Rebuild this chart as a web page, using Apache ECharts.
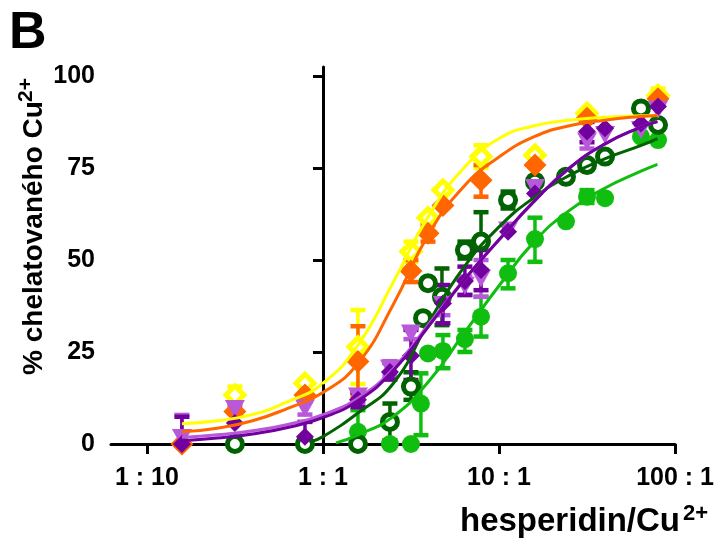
<!DOCTYPE html>
<html><head><meta charset="utf-8">
<script src="https://cdn.jsdelivr.net/npm/echarts@6/dist/echarts.min.js"></script>
<style>html,body{margin:0;padding:0;background:#fff}#c{width:717px;height:542px}</style>
</head><body><div id="c"></div>
<script>
// ---- axis ticks ----
const xTickRatios = [0.1, 1, 10, 100];
const xTickLabels = ['1 : 10', '1 : 1', '10 : 1', '100 : 1'];
const yTicks = [0, 25, 50, 75, 100];
const xMinRatio = 0.0625, xMaxRatio = 100;
const yMin = 0, yMax = 102.45;
const refRatio = 1;

// ---- yellow, open diamonds ----
const yelX  = [0.316, 0.79, 1.58, 3.16, 3.95, 4.8, 7.9, 16, 31.6, 80];
const yelY  = [13.3, 16.5, 26.4, 52.3, 61.5, 69, 78.1, 78.5, 89.9, 94.7];
const yelLo = [11, null, 16.3, 49.5, null, null, 75, null, null, 92.8];
const yelHi = [15.6, null, 36.4, 55, null, null, 81.2, null, null, 96.6];
// ---- orange, filled diamonds ----
const orX  = [0.158, 0.316, 0.79, 1.58, 3.16, 3.95, 4.8, 7.9, 16, 31.6, 80];
const orY  = [0, 8.8, 13.3, 22.4, 47, 57.3, 64.8, 71.7, 75.8, 88.5, 93.8];
const orLo = [null, null, null, 13, 44, 55, null, 67.2, null, null, null];
const orHi = [null, null, null, 32, 50, 59.5, null, 75.8, null, null, null];
// ---- light purple, down triangles ----
const lpX  = [0.158, 0.316, 0.79, 1.58, 2.4, 3.16, 4.8, 6.4, 7.9, 11.25, 16, 31.6, 40, 64, 80];
const lpY  = [1.6, 9.5, 9.7, 12.9, 20.5, 30, 37.8, 43, 45, 58, 69.6, 82.2, 84, 85.3, 90.8];
const lpLo = [0, 8.4, 8, 11, 18.5, 28.5, 35, 40.5, 40, null, null, 80.3, null, null, null];
const lpHi = [7.9, 10.6, 11.5, 14, 22.5, 31.5, 40.5, 45.5, 50, null, null, 84, null, null, null];
// ---- dark purple, filled diamonds ----
const dpX  = [0.158, 0.316, 0.79, 1.58, 2.4, 3.16, 4.8, 6.4, 7.9, 11.25, 16, 31.6, 40, 64, 80];
const dpY  = [0, 5.7, 2, 12, 19.6, 24, 38.2, 44.3, 47.3, 57.7, 68.1, 84.9, 85.8, 87.1, 91.7];
const dpLo = [0, null, 0, 10, 17.5, 17.4, 32.8, 40.5, 41.8, null, null, 82, null, null, null];
const dpHi = [7.4, null, 6, 14, 22, 31, 43.2, 48.2, 52.7, null, null, 87.5, null, null, null];
// ---- dark green, open circles ----
const dgX  = [0.316, 0.79, 1.58, 2.4, 3.16, 3.7, 3.95, 4.74, 6.4, 7.9, 11.25, 16, 24, 31.6, 40, 64, 80];
const dgY  = [0, 0, 0, 6, 15.6, 34.2, 43.7, 40, 52.7, 55, 66.3, 71.3, 72.6, 75.8, 78.1, 91.2, 86.7];
const dgLo = [null, null, null, 1, 12, null, null, 32.3, 50.4, 47.3, 64, null, null, null, null, null, null];
const dgHi = [null, null, null, 11, 19.5, null, null, 47.7, 55, 63, 68.6, null, null, null, null, null, null];
// ---- green, filled circles ----
const gX  = [0.316, 0.79, 1.58, 2.4, 3.16, 3.6, 3.95, 4.8, 6.4, 7.9, 11.25, 16, 24, 31.6, 40, 64, 80];
const gY  = [0, 0, 3.3, 0, 0, 11, 24.6, 25.3, 28.5, 34.6, 46.4, 55.7, 60.5, 67.2, 66.8, 83.5, 82.6];
const gLo = [null, null, 0, null, null, 2.4, null, 20.6, 25, 29.2, 42.3, 49.5, null, 65.5, null, null, null];
const gHi = [null, null, 9.2, null, null, 19.2, null, 29.6, 31, 40, 50, 61.5, null, 69, null, null, null];

// ---- fitted curves ----
const curveX   = [0.158, 0.251, 0.398, 0.631, 1, 1.585, 2.512, 3.981, 6.31, 10, 15.85, 25.12, 39.81, 63.1, 79.4];
const yelCurve = [5.5, 6.3, 8, 11.5, 16.5, 27, 44, 62, 75, 83, 86.5, 88, 88.8, 89.2, 89.3];
const orCurve  = [3.3, 4.3, 6.3, 9.7, 14, 22, 38, 57, 70, 78, 83.5, 86.5, 88, 89, 89.3];
const lpCurve  = [1.8, 2.5, 3.6, 5.3, 8, 12.5, 20.5, 32.5, 44.5, 55.5, 66, 75, 81.5, 86, 87.6];
const dpCurve  = [0.9, 1.6, 2.7, 4.5, 7.2, 11.8, 20, 32, 44.5, 55.5, 66, 75, 81.5, 86, 87.6];
const dgCurveX = [0.84, 1, 1.585, 2.512, 3.981, 6.31, 10, 15.85, 25.12, 39.81, 63.1, 79.4];
const dgCurve  = [0.5, 2, 8.5, 16.5, 33, 48, 59, 67, 73, 77.5, 81, 83];
const gCurveX  = [1.185, 1.585, 2.512, 3.981, 6.31, 10, 15.85, 25.12, 39.81, 63.1, 79.4];
const gCurve   = [0.3, 2.5, 7.5, 17, 30, 43, 55, 63.5, 69.5, 74, 76];

const FONT = '"Liberation Sans", Arial, Helvetica, sans-serif';
const L = r => Math.log10(r);
const pts = (xs, ys) => xs.map((x, i) => [L(x), ys[i]]);
function errs(xs, lo, hi) {
  const out = [];
  xs.forEach((x, i) => { if (lo[i] != null && hi[i] != null) out.push([L(x), lo[i], hi[i]]); });
  return out;
}
function errSeries(color, xs, lo, hi) {
  return {
    type: 'custom', silent: true, data: errs(xs, lo, hi), encode: { x: 0, y: [1, 2] },
    renderItem(params, api) {
      const x = api.value(0);
      const a = api.coord([x, api.value(1)]), b = api.coord([x, api.value(2)]);
      const hw = 7.5;
      const bar = { stroke: color, lineWidth: 3.5, fill: null };
      const cap = { stroke: color, lineWidth: 4.5, fill: null };
      return { type: 'group', children: [
        { type: 'line', shape: { x1: a[0], y1: a[1], x2: b[0], y2: b[1] }, style: bar },
        { type: 'line', shape: { x1: a[0] - hw, y1: a[1], x2: a[0] + hw, y2: a[1] }, style: cap },
        { type: 'line', shape: { x1: b[0] - hw, y1: b[1], x2: b[0] + hw, y2: b[1] }, style: cap }
      ]};
    }
  };
}
function curveSeries(color, xs, ys) {
  return { type: 'line', silent: true, data: pts(xs, ys), smooth: 0.5,
    symbol: 'none', lineStyle: { color, width: 3 } };
}
function scatterSeries(color, xs, ys, sym, size, open, rot) {
  return { type: 'scatter', silent: true, data: pts(xs, ys), symbol: sym, symbolSize: size,
    symbolRotate: rot || 0,
    itemStyle: open ? { color: '#fff', borderColor: color, borderWidth: 5, opacity: 1 }
                    : { color: color, opacity: 1 } };
}

const C = { g: '#10BE10', dg: '#006200', yel: '#FFFF00', or: '#FF6600', lp: '#B859DA', dp: '#72009E' };
const sets = [
  [C.g,   gX,   gY,   gLo,  gHi,  gCurveX,  gCurve,   'circle',  18, false, 0],
  [C.dg,  dgX,  dgY,  dgLo, dgHi, dgCurveX, dgCurve,  'circle',  15, true,  0],
  [C.yel, yelX, yelY, yelLo, yelHi, curveX, yelCurve, 'diamond', 18, true,  0],
  [C.or,  orX,  orY,  orLo, orHi, curveX,   orCurve,  'diamond', 23, false, 0],
  [C.lp,  lpX,  lpY,  lpLo, lpHi, curveX,   lpCurve,  'triangle', [20, 18], false, 180],
  [C.dp,  dpX,  dpY,  dpLo, dpHi, curveX,   dpCurve,  'diamond', 18, false, 0]
];

const series = [{
  type: 'line', data: [], silent: true,
  markLine: { silent: true, symbol: ['none', 'none'], label: { show: false },
    lineStyle: { type: [3, 8.3], width: 3, color: '#000' },
    data: [{ xAxis: L(refRatio) }] }
}];
sets.forEach(s => {
  series.push(errSeries(s[0], s[1], s[3], s[4]));
  series.push(curveSeries(s[0], s[5], s[6]));
  series.push(scatterSeries(s[0], s[1], s[2], s[7], s[8], s[9], s[10]));
});

const chart = echarts.init(document.getElementById('c'), null, { renderer: 'canvas' });
chart.setOption({
  animation: false,
  backgroundColor: '#fff',
  grid: { left: 111, right: 41, top: 67, bottom: 98, containLabel: false },
  xAxis: {
    type: 'value', min: L(xMinRatio), max: L(xMaxRatio),
    axisLine: { show: true, onZero: false, lineStyle: { color: '#000', width: 3 } },
    axisTick: { show: true, length: 10, lineStyle: { color: '#000', width: 3 },
      customValues: xTickRatios.map(L) },
    axisLabel: { customValues: xTickRatios.map(L), margin: 22, color: '#000',
      fontFamily: FONT, fontWeight: 'bold', fontSize: 25,
      formatter: v => xTickLabels[xTickRatios.findIndex(r => Math.abs(L(r) - v) < 1e-6)] },
    splitLine: { show: false }
  },
  yAxis: {
    type: 'value', min: yMin, max: yMax,
    axisLine: { show: true, lineStyle: { color: '#000', width: 3 } },
    axisTick: { show: true, length: 10, lineStyle: { color: '#000', width: 3 }, customValues: yTicks },
    axisLabel: { customValues: yTicks, margin: 16, color: '#000',
      fontFamily: FONT, fontWeight: 'bold', fontSize: 25 },
    splitLine: { show: false }
  },
  graphic: [
    { type: 'text', x: 9, y: 34, style: { text: 'B', font: 'bold 52px ' + FONT, fill: '#000', align: 'left', verticalAlign: 'middle' } },
    { type: 'text', x: 460, y: 522, style: { text: 'hesperidin/Cu', font: 'bold 33px ' + FONT, fill: '#000', align: 'left', verticalAlign: 'middle' } },
    { type: 'text', x: 683, y: 514, style: { text: '2+', font: 'bold 22px ' + FONT, fill: '#000', align: 'left', verticalAlign: 'middle' } },
    { type: 'text', x: 34, y: 238, rotation: Math.PI / 2, style: { text: '% chelatovaného Cu', font: 'bold 28px ' + FONT, fill: '#000', align: 'center', verticalAlign: 'middle' } },
    { type: 'text', x: 26, y: 90, rotation: Math.PI / 2, style: { text: '2+', font: 'bold 21px ' + FONT, fill: '#000', align: 'center', verticalAlign: 'middle' } }
  ],
  series
});
</script></body></html>
